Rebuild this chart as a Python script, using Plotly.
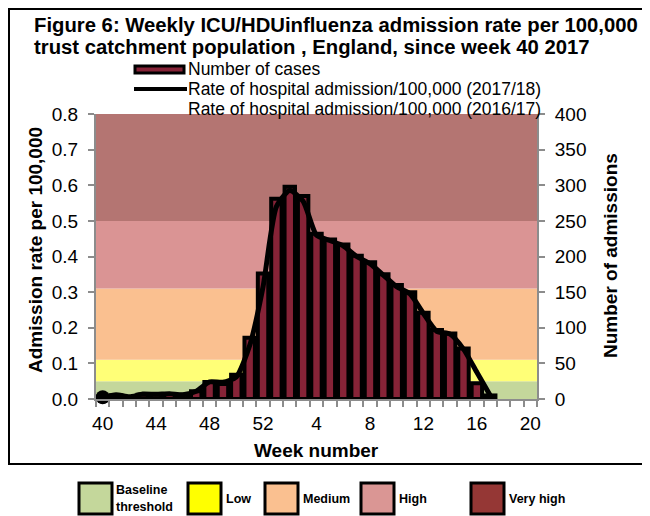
import plotly.graph_objects as go

# ---------------- data ----------------
weeks = [40, 41, 42, 43, 44, 45, 46, 47, 48, 49, 50, 51, 52,
         1, 2, 3, 4, 5, 6, 7, 8, 9, 10, 11, 12, 13, 14, 15, 16, 17, 18, 19, 20]
tick_weeks = [40, 44, 48, 52, 4, 8, 12, 16, 20]

# Number of cases (right axis), weeks 40 .. 17
cases = [2, 5, 2, 6, 6, 7, 6, 11, 24, 21, 34, 86, 176,
         281, 298, 285, 232, 224, 217, 201, 192, 175, 160, 150, 121, 97, 92, 71, 22, 5]

# Rate of hospital admission / 100,000 (2017/18), weeks 40 .. 17
rate_2017_18 = [0.005, 0.012, 0.006, 0.014, 0.013, 0.015, 0.012, 0.022, 0.048, 0.047, 0.062, 0.150, 0.315,
                0.540, 0.585, 0.555, 0.460, 0.445, 0.430, 0.400, 0.380, 0.348, 0.315, 0.295, 0.240,
                0.190, 0.182, 0.140, 0.075, 0.010]

# Rate of hospital admission / 100,000 (2016/17) - not drawn in the reference
rate_2016_17 = []

# Activity thresholds (left axis)
band_names = ["Baseline threshold", "Low", "Medium", "High", "Very high"]
band_edges = [0.0, 0.05, 0.11, 0.31, 0.50, 0.80]
band_colors = ["#C4D79B", "#FFFF77", "#FAC090", "#DA9494", "#B47572"]
legend_colors = ["#C4D79B", "#FFFF00", "#FAC090", "#DA9694", "#953735"]

BAR = "#862337"
FONT = "Liberation Sans, Arial, sans-serif"

# ---------------- geometry helpers ----------------
# The page body adds an 8px margin, so the figure is laid out 8px up/left.
OFF = 8
W, H = 650, 516
# plot area in on-screen pixels
SL, SR, ST, SB = 96, 537, 114, 399
L, R, T, B = SL - OFF, SR - OFF, ST - OFF, SB - OFF


def px(x):
    """on-screen x pixel -> paper x"""
    return (x - OFF - L) / (R - L)


def py(y):
    """on-screen y pixel -> paper y"""
    return (B - (y - OFF)) / (B - T)


x_pos = list(range(len(weeks)))

fig = go.Figure()

# bars on the primary y axis (shown on the right), line on the overlaying axis (left) so it draws on top
fig.add_trace(go.Bar(
    x=x_pos[:len(cases)], y=cases, yaxis="y", width=0.78,
    marker=dict(color=BAR, line=dict(color="black", width=4)),
    name="Number of cases", showlegend=False))

fig.add_trace(go.Scatter(
    x=x_pos[:len(rate_2017_18)], y=rate_2017_18, yaxis="y2", mode="lines",
    line=dict(color="black", width=5, shape="spline", smoothing=0.6),
    name="Rate of hospital admission/100,000 (2017/18)", showlegend=False))

# the single marker Excel shows at the first point of the 2017/18 series
fig.add_trace(go.Scatter(
    x=x_pos[:1], y=rate_2017_18[:1], yaxis="y2", mode="markers",
    marker=dict(size=14, color="black", opacity=1, line=dict(width=0)), cliponaxis=False,
    showlegend=False, hoverinfo="skip"))

fig.add_trace(go.Scatter(
    x=x_pos[:len(rate_2016_17)], y=rate_2016_17, yaxis="y2", mode="lines",
    line=dict(color="rgba(0,0,0,0)", width=2),
    name="Rate of hospital admission/100,000 (2016/17)", showlegend=False))

shapes = []
for i in range(len(band_names)):
    shapes.append(dict(type="rect", xref="paper", yref="y2", x0=0, x1=1,
                       y0=band_edges[i], y1=band_edges[i + 1],
                       fillcolor=band_colors[i], line=dict(width=0), layer="below"))

# outer chart border (top/left edges clamped to the figure)
shapes.append(dict(type="rect", xref="paper", yref="paper",
                   x0=px(OFF + 1), x1=px(648), y0=py(464), y1=py(OFF + 1),
                   line=dict(color="black", width=2), fillcolor="rgba(0,0,0,0)"))

# top legend symbols
shapes.append(dict(type="rect", xref="paper", yref="paper",
                   x0=px(135), x1=px(184), y0=py(73), y1=py(66),
                   line=dict(color="black", width=3), fillcolor=BAR))
shapes.append(dict(type="line", xref="paper", yref="paper",
                   x0=px(134), x1=px(187), y0=py(89), y1=py(89),
                   line=dict(color="black", width=4)))

annotations = []
leg_font = dict(family=FONT, size=17.5, color="black")
top_items = ["Number of cases", "Rate of hospital admission/100,000 (2017/18)",
             "Rate of hospital admission/100,000 (2016/17)"]
for txt, yy in zip(top_items, [69, 89, 109]):
    annotations.append(dict(text=txt, xref="paper", yref="paper", x=px(186), y=py(yy),
                            xanchor="left", yanchor="middle", showarrow=False, font=leg_font))

# title
title_font = dict(family=FONT, size=20.3, color="black")
annotations.append(dict(text="<b>Figure 6: Weekly ICU/HDUinfluenza admission rate per 100,000</b>",
                        xref="paper", yref="paper", x=px(32), y=py(25), xanchor="left",
                        yanchor="middle", showarrow=False, font=title_font))
annotations.append(dict(text="<b>trust catchment population , England, since week 40 2017</b>",
                        xref="paper", yref="paper", x=px(32), y=py(47), xanchor="left",
                        yanchor="middle", showarrow=False, font=title_font))

# axis titles
ax_font = dict(family=FONT, size=19, color="black")
annotations.append(dict(text="<b>Week number</b>", xref="paper", yref="paper",
                        x=px(316), y=py(450), xanchor="center", yanchor="middle",
                        showarrow=False, font=ax_font))
annotations.append(dict(text="<b>Admission rate per 100,000</b>", xref="paper", yref="paper",
                        x=px(35), y=py(250), xanchor="center", yanchor="middle", textangle=-90,
                        showarrow=False, font=ax_font))
annotations.append(dict(text="<b>Number of admissions</b>", xref="paper", yref="paper",
                        x=px(610), y=py(256), xanchor="center", yanchor="middle", textangle=-90,
                        showarrow=False, font=ax_font))

# bottom threshold legend
box_x = [79, 188, 265, 361, 471]
text_x = [114, 224, 301, 397, 507]
lab_font = dict(family=FONT, size=12.5, color="black")
for i, name in enumerate(band_names):
    shapes.append(dict(type="rect", xref="paper", yref="paper",
                       x0=px(box_x[i]), x1=px(box_x[i] + 33), y0=py(514), y1=py(483),
                       line=dict(color="black", width=3), fillcolor=legend_colors[i]))
    if i == 0:
        words = name.split(" ")
        annotations.append(dict(text="<b>" + words[0] + "</b>", xref="paper", yref="paper",
                                x=px(text_x[i]), y=py(490), xanchor="left", yanchor="middle",
                                showarrow=False, font=lab_font))
        annotations.append(dict(text="<b>" + words[1] + "</b>", xref="paper", yref="paper",
                                x=px(text_x[i]), y=py(507), xanchor="left", yanchor="middle",
                                showarrow=False, font=lab_font))
    else:
        annotations.append(dict(text="<b>" + name + "</b>", xref="paper", yref="paper",
                                x=px(text_x[i]), y=py(499), xanchor="left", yanchor="middle",
                                showarrow=False, font=lab_font))

tick_font = dict(family=FONT, size=19, color="black")
axis_common = dict(ticks="outside", ticklen=6, tickcolor="#8c8c8c", tickwidth=1.5,
                   showline=True, linecolor="#8c8c8c", linewidth=2, showgrid=False,
                   zeroline=False, tickfont=tick_font, ticklabelstandoff=6)
fig.update_layout(
    width=W, height=H,
    margin=dict(l=L, r=W - R, t=T, b=H - B, autoexpand=False),
    paper_bgcolor="white", plot_bgcolor="white",
    showlegend=False, bargap=0.22,
    shapes=shapes, annotations=annotations,
    xaxis=dict(range=[-0.5, len(weeks) - 0.5],
               tickmode="array",
               tickvals=[weeks.index(w) for w in tick_weeks],
               ticktext=[str(w) for w in tick_weeks],
               ticks="", showgrid=False, zeroline=False,
               showline=True, linecolor="#8c8c8c", linewidth=2,
               tickfont=tick_font, ticklabelstandoff=6,
               minor=dict(tickmode="linear", tick0=-0.5, dtick=1, ticks="outside",
                          ticklen=6, tickcolor="#8c8c8c", tickwidth=1.5, showgrid=False)),
    yaxis=dict(range=[0, 400], dtick=50, side="right", **axis_common),
    yaxis2=dict(range=[0, 0.8], dtick=0.1, tickformat=".1f", overlaying="y", side="left",
                **axis_common),
)

fig.write_html("out.html")
